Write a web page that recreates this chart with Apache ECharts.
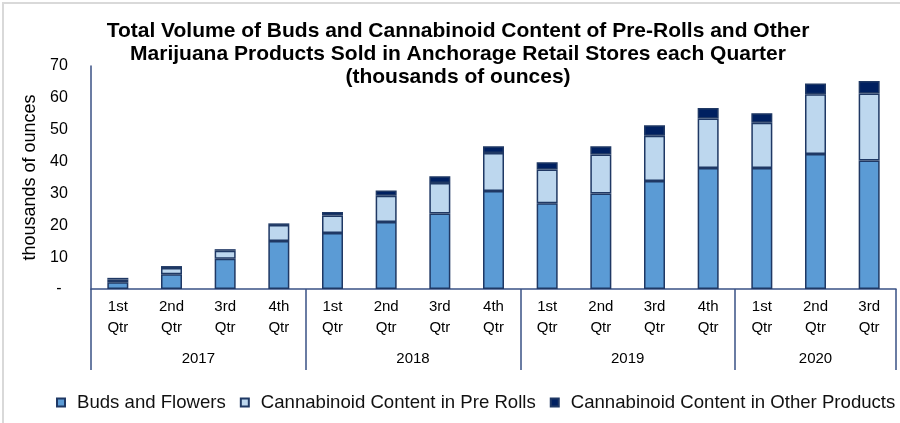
<!DOCTYPE html>
<html>
<head>
<meta charset="utf-8">
<script src="https://cdn.jsdelivr.net/npm/echarts@6/dist/echarts.min.js"></script>
<style>
html,body{margin:0;padding:0;background:#fff;}
#chart{width:900px;height:423px;}
</style>
</head>
<body>
<div id="chart"></div>
<script>
// ---- data ----
const quarterLabels = ['1st\nQtr','2nd\nQtr','3rd\nQtr','4th\nQtr',
                       '1st\nQtr','2nd\nQtr','3rd\nQtr','4th\nQtr',
                       '1st\nQtr','2nd\nQtr','3rd\nQtr','4th\nQtr',
                       '1st\nQtr','2nd\nQtr','3rd\nQtr'];
const yearNames = ['2017','2018','2019','2020'];
const quartersPerYear = [4,4,4,3];
const budsAndFlowers = [2.1, 4.6, 9.5, 15.1, 17.6, 21.0, 23.7, 30.8, 26.9, 30.0, 33.9, 38.0, 38.0, 42.4, 40.3];
const preRolls       = [0.9, 2.0, 2.5, 5.0, 5.5, 8.3, 9.6, 11.9, 10.6, 12.2, 14.2, 15.5, 14.2, 18.7, 21.1];
const otherProducts  = [0.5, 0.6, 0.5, 0.5, 1.1, 1.6, 2.1, 2.1, 2.3, 2.6, 3.3, 3.3, 3.0, 3.4, 3.9];
const seriesNames = ['Buds and Flowers','Cannabinoid Content in Pre Rolls','Cannabinoid Content in Other Products'];
const titleText = 'Total Volume of Buds and Cannabinoid Content of Pre-Rolls and Other\nMarijuana Products Sold in Anchorage Retail Stores each Quarter\n(thousands of ounces)';

// ---- year axis helper (half-category points) ----
const nCat = quarterLabels.length;
const yearAxisData = new Array(nCat * 2 + 1).fill('');
const sepIdx = [];
const labelIdx = [];
let start = 0;
yearNames.forEach((y, i) => {
  sepIdx.push(start * 2);
  const c = start * 2 + quartersPerYear[i];
  yearAxisData[c] = y;
  labelIdx.push(c);
  start += quartersPerYear[i];
});
sepIdx.push(start * 2);

const axisColor = '#3A5185';
const borderColor = '#1F3864';
const colors = ['#5B9BD5', '#BDD7EE', '#002060'];
const font = 'Liberation Sans, Arial, sans-serif';

const chart = echarts.init(document.getElementById('chart'), null, {renderer: 'canvas'});
chart.setOption({
  animation: false,
  textStyle: {fontFamily: font},
  title: {
    text: titleText,
    left: 458,
    top: 20,
    padding: 0,
    textAlign: 'center',
    textStyle: {fontFamily: font, fontSize: 21, fontWeight: 'bold', color: '#000', lineHeight: 23}
  },
  graphic: [{
    type: 'rect', silent: true,
    shape: {x: 3, y: 3, width: 1000, height: 1000},
    style: {fill: 'none', stroke: '#D9D9D9', lineWidth: 2}
  }],
  legend: {
    left: 51, top: 388, width: 1200,
    itemWidth: 8, itemHeight: 8, itemGap: 14,
    icon: 'rect',
    textStyle: {fontFamily: font, fontSize: 18.6, color: '#111', padding: [0, 0, 0, 7]},
    data: seriesNames
  },
  grid: {left: 91, right: 4, top: 66, bottom: 134, containLabel: false},
  xAxis: [{
    type: 'category',
    data: quarterLabels,
    position: 'bottom',
    axisLine: {show: true, lineStyle: {color: axisColor, width: 1.5}},
    axisTick: {show: false},
    axisLabel: {fontFamily: font, fontSize: 15, color: '#000', lineHeight: 21, margin: 7, interval: 0}
  }, {
    type: 'category',
    data: yearAxisData,
    position: 'bottom',
    boundaryGap: false,
    axisLine: {show: false},
    axisTick: {show: true, length: 81, interval: (i) => sepIdx.includes(i), lineStyle: {color: axisColor, width: 1.5}},
    axisLabel: {fontFamily: font, fontSize: 15, color: '#000', margin: 62, interval: (i) => labelIdx.includes(i)}
  }],
  yAxis: {
    type: 'value', min: 0, max: 70, interval: 10,
    name: 'thousands of ounces', nameLocation: 'middle', nameGap: 52, nameRotate: 90,
    nameTextStyle: {fontFamily: font, fontSize: 18, color: '#000'},
    axisLine: {show: true, lineStyle: {color: axisColor, width: 1.5}},
    axisTick: {show: false},
    splitLine: {show: false},
    axisLabel: {fontFamily: font, fontSize: 16, color: '#000', align: 'center', margin: 32,
      formatter: (v) => v === 0 ? '-' : String(v)}
  },
  series: [budsAndFlowers, preRolls, otherProducts].map((d, i) => ({
    name: seriesNames[i],
    type: 'bar',
    stack: 'total',
    xAxisIndex: 0,
    barWidth: 21,
    data: d,
    itemStyle: {color: colors[i], borderColor: borderColor, borderWidth: 1.5}
  }))
});
</script>
</body>
</html>
